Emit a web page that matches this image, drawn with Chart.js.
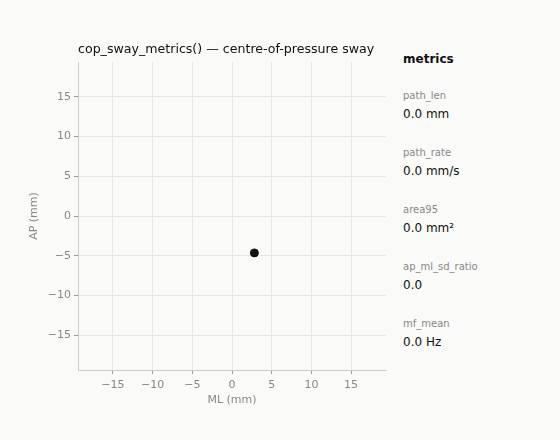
<!DOCTYPE html>
<html lang="en">
<head>
  <meta charset="UTF-8">
  <title>cop_sway_metrics</title>
  <script src="https://cdn.jsdelivr.net/npm/chart.js"></script>
  <style>
    body {
      margin: 0;
      background: #fafaf8;
      font-family: "DejaVu Sans", sans-serif;
      width: 560px;
      height: 440px;
      overflow: hidden;
      position: relative;
    }
    #wrap {
      position: absolute;
      left: 0;
      top: 0;
      width: 400px;
      height: 440px;
    }
    #panel {
      position: absolute;
      left: 403px;
      top: 52px;
    }
    #panel h3 {
      margin: 0 0 23px;
      font-size: 12px;
      line-height: 14px;
      font-weight: bold;
      color: #111;
    }
    .name {
      font-size: 10px;
      color: #888;
      margin: 0;
      line-height: 13px;
    }
    .val {
      font-size: 12px;
      color: #111;
      margin: 5px 0 24px;
      line-height: 15px;
    }
  </style>
</head>
<body>
  <div id="wrap"><canvas id="cop"></canvas></div>
  <div id="panel"><h3>metrics</h3></div>

  <script>
    // sway point (single CoP sample shown)
    const mlValues = [2.82];
    const apValues = [-4.65];
    const tickValues = [-15, -10, -5, 0, 5, 10, 15];
    const axisMin = -19.4;
    const axisMax = 19.4;

    const metricNames = ["path_len", "path_rate", "area95", "ap_ml_sd_ratio", "mf_mean"];
    const metricValues = ["0.0 mm", "0.0 mm/s", "0.0 mm²", "0.0", "0.0 Hz"];

    const panel = document.getElementById("panel");
    metricNames.forEach((n, i) => {
      const a = document.createElement("div");
      a.className = "name";
      a.textContent = n;
      const b = document.createElement("div");
      b.className = "val";
      b.textContent = metricValues[i];
      panel.appendChild(a);
      panel.appendChild(b);
    });

    const fmt = v => (v < 0 ? "\u2212" + Math.abs(v) : String(v));
    const fixTicks = scale => { scale.ticks = tickValues.map(v => ({ value: v })); };

    // title drawn at left edge of plot area
    const titlePlugin = {
      id: "plotTitle",
      afterDraw(chart) {
        const ctx = chart.ctx;
        ctx.save();
        ctx.font = "12.6px 'DejaVu Sans'";
        ctx.fillStyle = "#111";
        ctx.textBaseline = "middle";
        ctx.textAlign = "left";
        ctx.fillText("cop_sway_metrics() \u2014 centre-of-pressure sway", chart.chartArea.left, 50);
        ctx.restore();
      }
    };

    const tickFont = { family: "DejaVu Sans", size: 11 };

    new Chart(document.getElementById("cop"), {
      type: "scatter",
      data: {
        datasets: [{
          data: mlValues.map((x, i) => ({ x: x, y: apValues[i] })),
          backgroundColor: "#111",
          borderColor: "#111",
          pointRadius: 4,
          pointHoverRadius: 4
        }]
      },
      options: {
        responsive: true,
        maintainAspectRatio: false,
        animation: false,
        layout: { padding: { left: 28, top: 62, right: 14, bottom: 29 } },
        plugins: { legend: { display: false }, tooltip: { enabled: false } },
        scales: {
          x: {
            min: axisMin,
            max: axisMax,
            afterBuildTicks: fixTicks,
            afterFit: s => { s.height = 41; },
            grid: { color: "#e6e6e6", tickColor: "#999", tickLength: 4 },
            border: { color: "#cccccc" },
            ticks: { color: "#888", font: tickFont, padding: 5, callback: fmt },
            title: { display: true, text: "ML (mm)", color: "#888", font: tickFont, padding: { top: 2 } }
          },
          y: {
            min: axisMin,
            max: axisMax,
            afterBuildTicks: fixTicks,
            afterFit: s => { s.width = 50; },
            grid: { color: "#e6e6e6", tickColor: "#999", tickLength: 4 },
            border: { color: "#cccccc" },
            ticks: { color: "#888", font: tickFont, padding: 3, callback: fmt },
            title: { display: true, text: "AP (mm)", color: "#888", font: tickFont, padding: 0 }
          }
        }
      },
      plugins: [titlePlugin]
    });
  </script>
</body>
</html>
